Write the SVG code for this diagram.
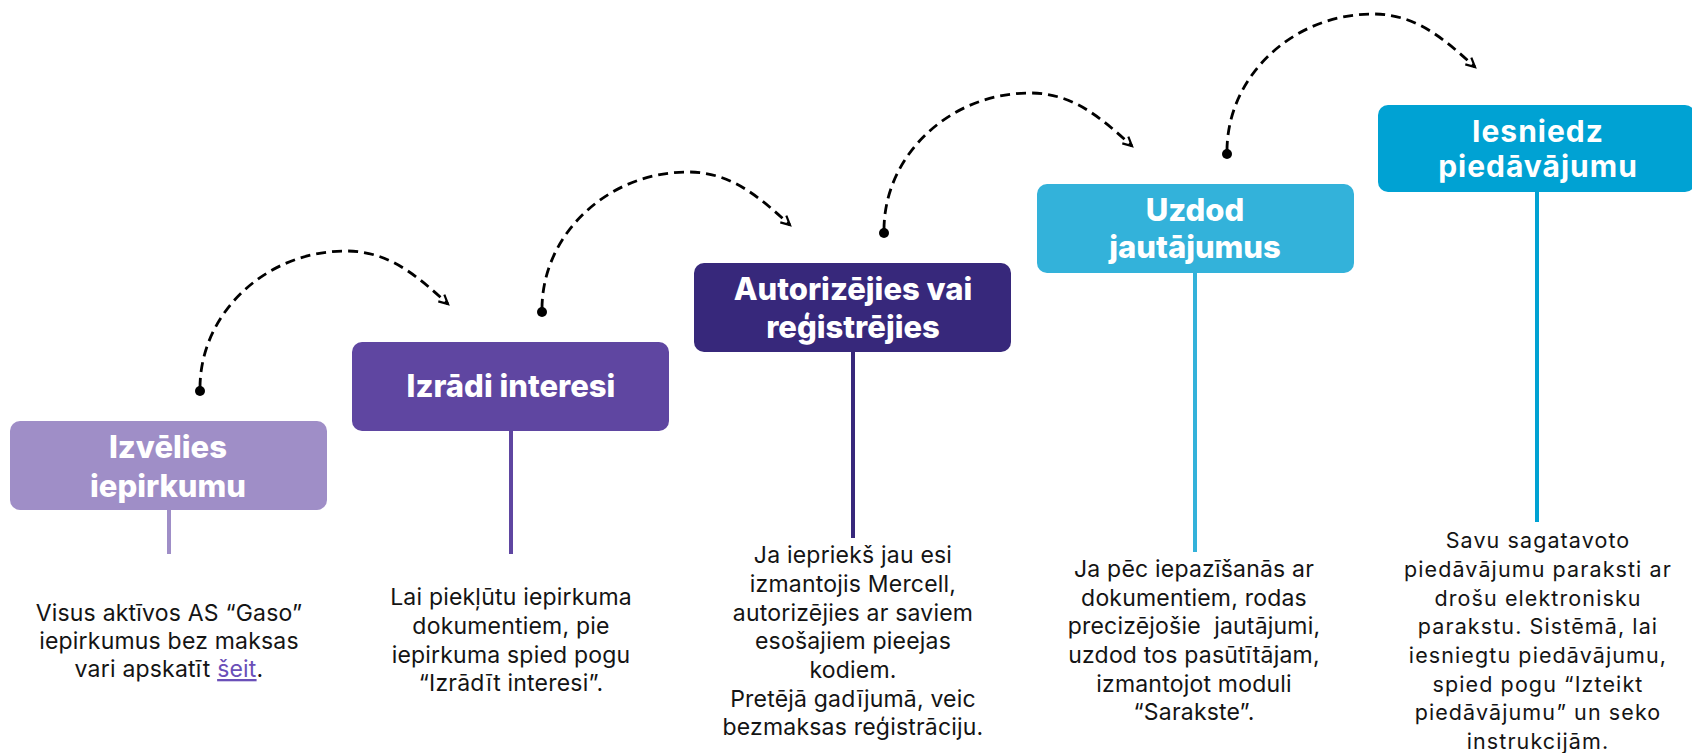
<svg xmlns="http://www.w3.org/2000/svg" width="1692" height="753" viewBox="0 0 1692 753">
<style>
.hd{font-family:Inter,"Liberation Sans",sans-serif;font-weight:800;font-size:31px;fill:#fff;text-anchor:middle;}
.hd5{font-family:Inter,"Liberation Sans",sans-serif;font-weight:700;font-size:30px;letter-spacing:1px;fill:#fff;text-anchor:middle;}
.ds{font-family:Inter,"Liberation Sans",sans-serif;font-size:23px;letter-spacing:0.2px;fill:#141414;text-anchor:middle;}
.ds5{font-family:Inter,"Liberation Sans",sans-serif;font-size:21.5px;letter-spacing:1.1px;fill:#141414;text-anchor:middle;}
.arc{fill:none;stroke:#000;stroke-width:2.8;stroke-dasharray:10 6;marker-end:url(#ah);}
.dot{fill:#000;}
.ln{stroke-width:4;}
</style>
<defs>
<marker id="ah" markerUnits="userSpaceOnUse" markerWidth="14" markerHeight="14" refX="11" refY="6" orient="auto">
<path d="M2,1.5 L11,6 L2,10.5" fill="none" stroke="#000" stroke-width="2.2"/>
</marker>
</defs>
<rect width="1692" height="753" fill="#fff"/>
<g id="connectors">
<path class="arc" d="M200,388 C200,314 265,251 346,251 C390,251 418,277 448,304"/>
<circle class="dot" cx="200" cy="391" r="5"/>
<path class="arc" d="M542,309 C542,235 607,172 688,172 C732,172 760,198 790,225"/>
<circle class="dot" cx="542" cy="312" r="5"/>
<path class="arc" d="M884,230 C884,156 949,93 1030,93 C1074,93 1102,119 1132,146"/>
<circle class="dot" cx="884" cy="233" r="5"/>
<path class="arc" d="M1227,151 C1227,77 1292,14 1373,14 C1417,14 1445,40 1475,67"/>
<circle class="dot" cx="1227" cy="154" r="5"/>
</g>
<g id="step1">
<rect x="10" y="421" width="317" height="89" rx="10" fill="#9F8EC7"/>
<line class="ln" x1="169" y1="509" x2="169" y2="554" stroke="#9F8EC7"/>
<text class="hd"><tspan x="168" y="458">Izvēlies</tspan><tspan x="168" y="497">iepirkumu</tspan></text>
<text class="ds"><tspan x="169" y="621">Visus aktīvos AS “Gaso”</tspan><tspan x="169" y="649">iepirkumus bez maksas</tspan><tspan x="169" y="677">vari apskatīt <tspan fill="#6A4FB8" text-decoration="underline">šeit</tspan>.</tspan></text>
</g>
<g id="step2">
<rect x="352" y="342" width="317" height="89" rx="10" fill="#5F46A1"/>
<line class="ln" x1="511" y1="430" x2="511" y2="554" stroke="#5F46A1"/>
<text class="hd"><tspan x="511" y="397">Izrādi interesi</tspan></text>
<text class="ds"><tspan x="511" y="605">Lai piekļūtu iepirkuma</tspan><tspan x="511" y="634">dokumentiem, pie</tspan><tspan x="511" y="663">iepirkuma spied pogu</tspan><tspan x="511" y="691">“Izrādīt interesi”.</tspan></text>
</g>
<g id="step3">
<rect x="694" y="263" width="317" height="89" rx="10" fill="#37287B"/>
<line class="ln" x1="853" y1="351" x2="853" y2="538" stroke="#37287B"/>
<text class="hd"><tspan x="853" y="300">Autorizējies vai</tspan><tspan x="853" y="338">reģistrējies</tspan></text>
<text class="ds"><tspan x="853" y="563">Ja iepriekš jau esi</tspan><tspan x="853" y="592">izmantojis Mercell,</tspan><tspan x="853" y="621">autorizējies ar saviem</tspan><tspan x="853" y="649">esošajiem pieejas</tspan><tspan x="853" y="678">kodiem.</tspan><tspan x="853" y="707">Pretējā gadījumā, veic</tspan><tspan x="853" y="735">bezmaksas reģistrāciju.</tspan></text>
</g>
<g id="step4">
<rect x="1037" y="184" width="317" height="89" rx="10" fill="#33B2DA"/>
<line class="ln" x1="1195" y1="272" x2="1195" y2="552" stroke="#33B2DA"/>
<text class="hd"><tspan x="1195" y="221">Uzdod</tspan><tspan x="1195" y="258">jautājumus</tspan></text>
<text class="ds" xml:space="preserve"><tspan x="1194" y="577">Ja pēc iepazīšanās ar</tspan><tspan x="1194" y="606">dokumentiem, rodas</tspan><tspan x="1194" y="634">precizējošie  jautājumi,</tspan><tspan x="1194" y="663">uzdod tos pasūtītājam,</tspan><tspan x="1194" y="692">izmantojot moduli</tspan><tspan x="1194" y="720">“Sarakste”.</tspan></text>
</g>
<g id="step5">
<rect x="1378" y="105" width="317" height="87" rx="10" fill="#00A2D3"/>
<line class="ln" x1="1537" y1="191" x2="1537" y2="522" stroke="#00A2D3"/>
<text class="hd5"><tspan x="1538" y="142">Iesniedz</tspan><tspan x="1538" y="177">piedāvājumu</tspan></text>
<text class="ds5"><tspan x="1538" y="548">Savu sagatavoto</tspan><tspan x="1538" y="577">piedāvājumu paraksti ar</tspan><tspan x="1538" y="606">drošu elektronisku</tspan><tspan x="1538" y="634">parakstu. Sistēmā, lai</tspan><tspan x="1538" y="663">iesniegtu piedāvājumu,</tspan><tspan x="1538" y="692">spied pogu “Izteikt</tspan><tspan x="1538" y="720">piedāvājumu” un seko</tspan><tspan x="1538" y="749">instrukcijām.</tspan></text>
</g>
</svg>
